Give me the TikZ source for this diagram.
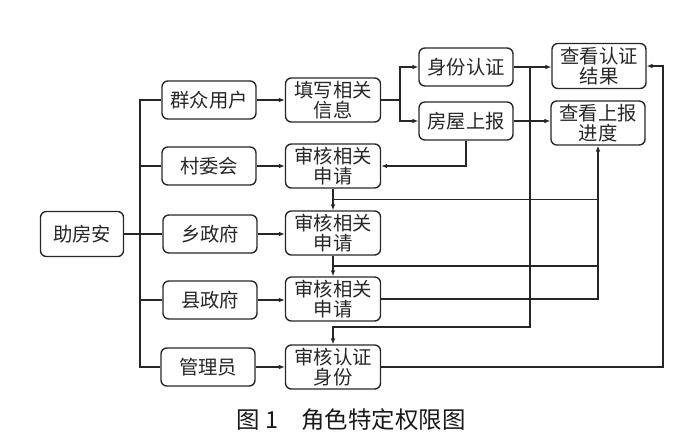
\documentclass[tikz,border=0pt]{standalone}
\usepackage{fontspec}
\setmainfont{Noto Sans CJK SC}
\usetikzlibrary{arrows.meta,calc}

\begin{document}
\begin{tikzpicture}[x=0.03cm,y=-0.03cm,line width=1.2pt,color=black!85,
    box/.style={draw,rounded corners=5pt,align=center,inner sep=0pt,
        font=\fontsize{16.5}{17.5}\selectfont},
    wide/.style={box,minimum width=2.82cm,minimum height=1.14cm},
    tall/.style={box,minimum width=2.85cm,minimum height=1.32cm},
    arr/.style={-{Latex[length=5pt,width=4pt]}}]
    \useasboundingbox (0,0) rectangle (700,445);
    % left
    \node[box,minimum width=2.49cm,minimum height=1.35cm] (fangan) at (82,234) {助房安};
    % roles
    \node[wide] (qunzhong) at (209,100) {群众用户};
    \node[wide] (cunwei) at (209,166) {村委会};
    \node[wide] (xiang) at (210,234) {乡政府};
    \node[wide] (xian) at (210,300) {县政府};
    \node[wide] (guanli) at (208,367) {管理员};
    % actions
    \node[tall] (tianxie) at (333,100) {填写相关\\信息};
    \node[tall] (shen1) at (333,166) {审核相关\\申请};
    \node[tall] (shen2) at (333,233) {审核相关\\申请};
    \node[tall] (shen3) at (333,299) {审核相关\\申请};
    \node[tall] (shenid) at (333,367) {审核认证\\身份};
    \node[wide] (shenfen) at (466,67) {身份认证};
    \node[wide] (fangwu) at (466,121) {房屋上报};
    \node[box,minimum width=2.82cm,minimum height=1.35cm] (jieguo) at (599,66) {查看认证\\结果};
    \node[box,minimum width=2.82cm,minimum height=1.32cm] (jindu) at (598,123) {查看上报\\进度};
    \node[font=\fontsize{20}{22}\selectfont,text=black!90] (caption) at (351,420) {图 1\quad 角色特定权限图};

    \coordinate (trunkT) at (140,100);
    \coordinate (trunkB) at (140,367);
    \coordinate (fork) at (400,100);
    \coordinate (tapA) at (530,67);
    \coordinate (turnA) at (530,327);
    \coordinate (outR) at (663,367);
    \coordinate (j1) at ($(shen1.south)!0.5!(shen2.north)$);
    \coordinate (j2) at ($(shen2.south)!0.5!(shen3.north)$);

    \draw (qunzhong.west) -- (trunkT) -- (trunkB) -- (guanli.west);
    \draw (cunwei.west) -- (cunwei.west -| trunkT);
    \draw (xian.west) -- (xian.west -| trunkT);
    \draw (fangan.east) -- (xiang.west);

    \draw[arr] (qunzhong) -- (tianxie);
    \draw[arr] (cunwei) -- (shen1);
    \draw[arr] (xiang.east) -- (xiang.east -| shen2.west);
    \draw[arr] (xian.east) -- (xian.east -| shen3.west);
    \draw[arr] (guanli) -- (shenid);

    \draw (tianxie.east) -- (fork);
    \draw[arr] (fork) |- (shenfen.west);
    \draw[arr] (fork) |- (fangwu.west);
    \draw[arr] (shenfen.east) -- (shenfen.east -| jieguo.west);
    \draw[arr] (fangwu.east) -- (fangwu.east -| jindu.west);
    \draw[arr] (fangwu.south) |- (shen1.east);

    \draw[arr] (shen1) -- (shen2);
    \draw[arr] (shen2) -- (shen3);
    \draw (j1) -- (j1 -| jindu.south);
    \draw (j2) -- (j2 -| jindu.south);
    \draw[arr] (shen3.east) -| (jindu.south);

    \draw[arr] (tapA) -- (turnA) -| (shenid.north);
    \draw[arr] (shenid.east) -- (outR) |- (jieguo.east);
\end{tikzpicture}
\end{document}
